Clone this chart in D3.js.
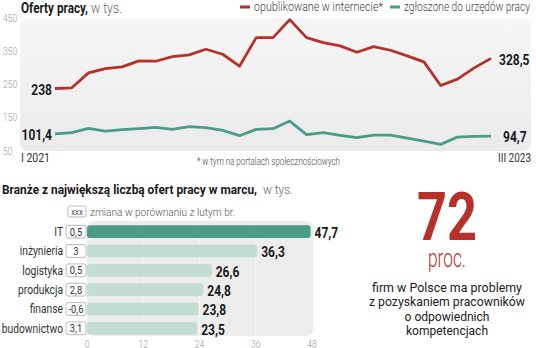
<!DOCTYPE html>
<html>
<head>
<meta charset="utf-8">
<script src="https://cdn.jsdelivr.net/npm/d3@7"></script>
<style>
  body { margin: 0; background: #fff; }
  svg { display: block; }
  text { font-family: Roboto, "DejaVu Sans Condensed", sans-serif; }
</style>
</head>
<body>
<div id="chart"></div>
<script>
// ---- data ----
const months = d3.range(27); // I 2021 .. III 2023
const internet = [238, 240, 285, 298, 303, 321, 320, 334, 339, 356, 341, 305, 391, 391,
                  445, 391, 376, 366, 347, 364, 353, 336, 318, 247, 266, 300, 328.5];
const urzedy = [101.4, 105, 118, 110, 114, 117, 121, 115, 123, 120, 112, 96, 115, 117,
                140, 99, 105, 97, 90, 98, 98, 89, 80, 70, 92, 94, 94.7];
const yTicks = [50, 150, 250, 350, 450];
const firstLabel = "I 2021", lastLabel = "III 2023";

const branze = ["IT", "inżynieria", "logistyka", "produkcja", "finanse", "budownictwo"];
const oferty = [47.7, 36.3, 26.6, 24.8, 23.8, 23.5];
const zmiana = ["0,5", "3", "0,5", "2,8", "-0,6", "3,1"];
const xTicks = [0, 12, 24, 36, 48];

const width = 536, height = 348;
const red = "#b5312a", teal = "#4b9b89", lightTeal = "#c4ddd4";
const fmt = v => String(v).replace(".", ",");

// the original uses a condensed face, so texts get squeezed horizontally
function squeeze(sel, k) {
    sel.each(function() {
        this.setAttribute("textLength", this.getComputedTextLength() * k);
        this.setAttribute("lengthAdjust", "spacingAndGlyphs");
    });
}
function fitTo(sel, w) {
    sel.attr("textLength", w).attr("lengthAdjust", "spacingAndGlyphs");
}

const svg = d3.select("#chart").append("svg")
    .attr("width", width)
    .attr("height", height);

const grad = svg.append("defs").append("linearGradient")
    .attr("id", "panelGrad")
    .attr("x1", 0).attr("y1", 0).attr("x2", 0).attr("y2", 1);
grad.append("stop").attr("offset", "0%").attr("stop-color", "#f6f6f6");
grad.append("stop").attr("offset", "100%").attr("stop-color", "#ebebeb");

// ---- line chart ----
let xScale = d3.scaleLinear()
    .domain([0, 26])
    .range([55, 491]);

let yScale = d3.scaleLinear()
    .domain([50, 450])
    .range([151, 18]);

svg.append("rect")
    .attr("x", 20).attr("y", 18)
    .attr("width", 511).attr("height", 133)
    .attr("rx", 8)
    .attr("fill", "url(#panelGrad)");

svg.append("g")
    .selectAll("text")
    .data(yTicks)
    .enter()
    .append("text")
    .attr("x", 3)
    .attr("y", d => yScale(d))
    .attr("dy", "0.35em")
    .attr("font-size", "10px")
    .attr("font-weight", 300)
    .attr("fill", "#999")
    .text(d => d)
    .call(squeeze, 0.85);

const line = d3.line()
    .x((d, i) => xScale(months[i]))
    .y(d => yScale(d));

svg.append("path")
    .datum(internet)
    .attr("d", line)
    .attr("fill", "none")
    .attr("stroke", red)
    .attr("stroke-width", 2.8)
    .attr("stroke-linejoin", "round");

svg.append("path")
    .datum(urzedy)
    .attr("d", line)
    .attr("fill", "none")
    .attr("stroke", teal)
    .attr("stroke-width", 2.8)
    .attr("stroke-linejoin", "round");

// end labels
const endLabels = [
    { v: internet[0], i: 0, anchor: "end", dx: -3 },
    { v: urzedy[0], i: 0, anchor: "end", dx: -3 },
    { v: internet[26], i: 26, anchor: "start", dx: 8 },
    { v: urzedy[26], i: 26, anchor: "start", dx: 12 }
];
svg.append("g")
    .selectAll("text")
    .data(endLabels)
    .enter()
    .append("text")
    .attr("x", d => xScale(d.i) + d.dx)
    .attr("y", d => yScale(d.v) + 1)
    .attr("dy", "0.35em")
    .attr("text-anchor", d => d.anchor)
    .attr("font-size", "15px")
    .attr("font-weight", "bold")
    .attr("fill", "#1a1a1a")
    .text(d => fmt(d.v))
    .call(squeeze, 0.8);

svg.append("text")
    .attr("x", 21).attr("y", 162)
    .attr("font-size", "12px")
    .attr("fill", "#333")
    .text(firstLabel)
    .call(fitTo, 29);

svg.append("text")
    .attr("x", 498).attr("y", 162)
    .attr("font-size", "12px")
    .attr("fill", "#333")
    .text(lastLabel)
    .call(fitTo, 33);

svg.append("text")
    .attr("x", 197).attr("y", 165)
    .attr("font-size", "10px")
    .attr("font-weight", 300)
    .attr("fill", "#444")
    .text("* w tym na portalach społecznościowych")
    .call(fitTo, 143);

// title + legend
svg.append("text")
    .attr("x", 21).attr("y", 13)
    .attr("font-size", "15px")
    .attr("font-weight", "bold")
    .attr("fill", "#1a1a1a")
    .text("Oferty pracy,")
    .call(fitTo, 67);
svg.append("text")
    .attr("x", 91).attr("y", 13)
    .attr("font-size", "15px")
    .attr("font-weight", 300)
    .attr("fill", "#666")
    .text("w tys.")
    .call(fitTo, 31);

const legend = [
    { label: "opublikowane w internecie*", color: red, x: 240, w: 129 },
    { label: "zgłoszone do urzędów pracy", color: teal, x: 390, w: 126 }
];
const lg = svg.append("g").selectAll("g").data(legend).enter().append("g");
lg.append("line")
    .attr("x1", d => d.x).attr("x2", d => d.x + 10)
    .attr("y1", 7).attr("y2", 7)
    .attr("stroke", d => d.color)
    .attr("stroke-width", 3);
lg.append("text")
    .attr("x", d => d.x + 14).attr("y", 11)
    .attr("font-size", "12px")
    .attr("font-weight", 300)
    .attr("fill", "#444")
    .attr("textLength", d => d.w)
    .attr("lengthAdjust", "spacingAndGlyphs")
    .text(d => d.label);

// ---- bar chart ----
svg.append("text")
    .attr("x", 2).attr("y", 194)
    .attr("font-size", "13.5px")
    .attr("font-weight", "bold")
    .attr("fill", "#1a1a1a")
    .text("Branże z największą liczbą ofert pracy w marcu,")
    .call(fitTo, 255);
svg.append("text")
    .attr("x", 263).attr("y", 194)
    .attr("font-size", "13.5px")
    .attr("font-weight", 300)
    .attr("fill", "#666")
    .text("w tys.")
    .call(fitTo, 30);

svg.append("rect")
    .attr("x", 68).attr("y", 206)
    .attr("width", 18).attr("height", 11)
    .attr("rx", 2)
    .attr("fill", "#fff").attr("stroke", "#bbb");
svg.append("text")
    .attr("x", 77).attr("y", 211.5)
    .attr("dy", "0.35em")
    .attr("text-anchor", "middle")
    .attr("font-size", "9px")
    .attr("fill", "#555")
    .text("xxx")
    .call(squeeze, 0.85);
svg.append("text")
    .attr("x", 90).attr("y", 211.5)
    .attr("dy", "0.35em")
    .attr("font-size", "11.5px")
    .attr("font-weight", 300)
    .attr("fill", "#555")
    .text("zmiana w porównaniu z lutym br.")
    .call(fitTo, 145);

let xb = d3.scaleLinear()
    .domain([0, 48])
    .range([87, 312]);

let yb = d3.scaleBand()
    .domain(branze)
    .range([222, 338])
    .paddingInner(0.34)
    .paddingOuter(0.17);

svg.append("rect")
    .attr("x", 87).attr("y", 221)
    .attr("width", 226).attr("height", 115)
    .attr("rx", 7)
    .attr("fill", "#ececec");

svg.append("g")
    .selectAll("line")
    .data(xTicks.slice(1, -1))
    .enter()
    .append("line")
    .attr("x1", d => xb(d)).attr("x2", d => xb(d))
    .attr("y1", 221).attr("y2", 336)
    .attr("stroke", "#f6f6f6")
    .attr("stroke-width", 1);

svg.append("g")
    .selectAll("text")
    .data(xTicks)
    .enter()
    .append("text")
    .attr("x", d => xb(d))
    .attr("y", 344)
    .attr("dy", "0.35em")
    .attr("text-anchor", "middle")
    .attr("font-size", "10px")
    .attr("font-weight", 300)
    .attr("fill", "#999")
    .text(d => d)
    .call(squeeze, 0.85);

const rows = svg.append("g")
    .selectAll("g")
    .data(branze)
    .enter()
    .append("g");

rows.append("rect")
    .attr("x", xb(0))
    .attr("y", d => yb(d))
    .attr("width", (d, i) => xb(oferty[i]) - xb(0))
    .attr("height", yb.bandwidth())
    .attr("rx", 3)
    .attr("fill", (d, i) => i === 0 ? teal : lightTeal);

rows.append("text")
    .attr("x", (d, i) => xb(oferty[i]) + 4)
    .attr("y", d => yb(d) + yb.bandwidth() / 2 + 1)
    .attr("dy", "0.35em")
    .attr("font-size", "15px")
    .attr("font-weight", "bold")
    .attr("fill", "#1a1a1a")
    .text((d, i) => fmt(oferty[i]))
    .call(squeeze, 0.8);

rows.append("rect")
    .attr("x", 66)
    .attr("y", d => yb(d))
    .attr("width", 20)
    .attr("height", yb.bandwidth())
    .attr("rx", 2)
    .attr("fill", "#fff")
    .attr("stroke", "#bbb");

rows.append("text")
    .attr("x", 76)
    .attr("y", d => yb(d) + yb.bandwidth() / 2)
    .attr("dy", "0.35em")
    .attr("text-anchor", "middle")
    .attr("font-size", "11px")
    .attr("fill", "#333")
    .text((d, i) => zmiana[i])
    .call(squeeze, 0.85);

rows.append("text")
    .attr("x", 63)
    .attr("y", d => yb(d) + yb.bandwidth() / 2)
    .attr("dy", "0.35em")
    .attr("text-anchor", "end")
    .attr("font-size", "12.5px")
    .attr("fill", "#333")
    .text(d => d)
    .call(squeeze, 0.82);

// ---- big number ----
svg.append("text")
    .attr("x", 447).attr("y", 240)
    .attr("text-anchor", "middle")
    .attr("font-size", "66px")
    .attr("font-weight", "bold")
    .attr("fill", red)
    .text("72")
    .call(fitTo, 60);

svg.append("text")
    .attr("x", 447).attr("y", 267)
    .attr("text-anchor", "middle")
    .attr("font-size", "25px")
    .attr("font-weight", 300)
    .attr("fill", red)
    .text("proc.")
    .call(fitTo, 38);

const note = ["firm w Polsce ma problemy", "z pozyskaniem pracowników", "o odpowiednich", "kompetencjach"];
const noteW = [150, 156, 85, 82];
svg.append("g")
    .selectAll("text")
    .data(note)
    .enter()
    .append("text")
    .attr("x", 447)
    .attr("y", (d, i) => 292 + i * 14.3)
    .attr("text-anchor", "middle")
    .attr("font-size", "13px")
    .attr("fill", "#222")
    .attr("textLength", (d, i) => noteW[i])
    .attr("lengthAdjust", "spacingAndGlyphs")
    .text(d => d);
</script>
</body>
</html>
